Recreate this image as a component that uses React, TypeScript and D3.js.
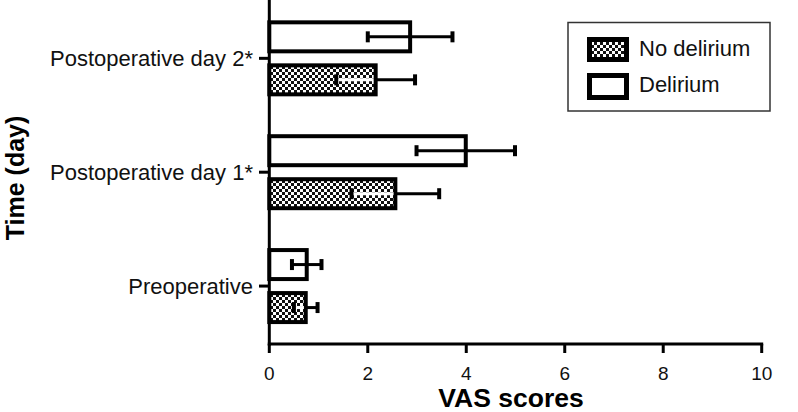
import React from "react";
import * as d3 from "d3";

const categories = ["Postoperative day 2*", "Postoperative day 1*", "Preoperative"];
const seriesNames = ["Delirium", "No delirium"];
const deliriumMean = [2.86, 3.99, 0.76];
const deliriumSD = [0.86, 1.0, 0.3];
const noDeliriumMean = [2.16, 2.56, 0.74];
const noDeliriumSD = [0.8, 0.89, 0.24];
const xTicks = [0, 2, 4, 6, 8, 10];

const W = 798;
const H = 412;
const FONT = "'Liberation Sans', Arial, sans-serif";

export default function App() {
  const x = d3.scaleLinear().domain([0, 10]).range([269.3, 761.7]);
  const y = d3.scaleBand<string>().domain(categories).range([1.4, 343]).padding(0);
  const sub = d3.scaleBand<string>().domain(seriesNames).range([-38, 38]).paddingInner(0.2326);
  const sw = 4;
  const axisY = 344;
  const axisX = x(0);

  const series = [
    { name: "Delirium", mean: deliriumMean, sd: deliriumSD, fill: "#fff" },
    { name: "No delirium", mean: noDeliriumMean, sd: noDeliriumSD, fill: "url(#checker)" },
  ];

  return (
    <svg width={W} height={H} style={{ position: "absolute", left: 0, top: 0, background: "#fff" }}>
      <defs>
        <pattern id="checker" patternUnits="userSpaceOnUse" width={6} height={6}>
          <rect width={6} height={6} fill="#fff" />
          <rect x={0} y={0} width={3} height={3} fill="#111" />
          <rect x={3} y={3} width={3} height={3} fill="#111" />
        </pattern>
      </defs>

      {categories.map((c, i) => {
        const cy = (y(c) as number) + y.bandwidth() / 2;
        return (
          <g key={c}>
            {series.map((s) => {
              const top = cy + (sub(s.name) as number);
              const bw = sub.bandwidth();
              const m = s.mean[i];
              const sd = s.sd[i];
              const ey = top + bw / 2;
              const isHatch = s.name === "No delirium";
              return (
                <g key={s.name}>
                  <rect
                    x={x(0)}
                    y={top + sw / 2}
                    width={x(m) - x(0)}
                    height={bw - sw}
                    fill={s.fill}
                    stroke="#000"
                    strokeWidth={sw}
                  />
                  {isHatch ? (
                    <line x1={x(m - sd)} x2={x(m) - sw / 2} y1={ey} y2={ey} stroke="#fff" strokeWidth={3} />
                  ) : (
                    <line x1={x(m - sd)} x2={x(m)} y1={ey} y2={ey} stroke="#000" strokeWidth={3} />
                  )}
                  <line x1={x(m)} x2={x(m + sd)} y1={ey} y2={ey} stroke="#000" strokeWidth={3} />
                  <line x1={x(m - sd)} x2={x(m - sd)} y1={ey - 5.5} y2={ey + 5.5} stroke="#000" strokeWidth={4} />
                  <line x1={x(m + sd)} x2={x(m + sd)} y1={ey - 5.5} y2={ey + 5.5} stroke="#000" strokeWidth={4} />
                </g>
              );
            })}
            <line x1={259} x2={axisX} y1={cy} y2={cy} stroke="#000" strokeWidth={3} />
            <text x={253} y={cy} dy="0.35em" textAnchor="end" fontFamily={FONT} fontSize={22} fill="#111">
              {c}
            </text>
          </g>
        );
      })}

      {/* axes */}
      <line x1={axisX} x2={axisX} y1={0} y2={axisY + 1.5} stroke="#000" strokeWidth={3} />
      <line x1={axisX - 1.5} x2={x(10) + 1.5} y1={axisY} y2={axisY} stroke="#000" strokeWidth={3} />
      {xTicks.map((t) => (
        <g key={t}>
          <line x1={x(t)} x2={x(t)} y1={axisY} y2={353} stroke="#000" strokeWidth={3} />
          <text x={x(t)} y={380} textAnchor="middle" fontFamily={FONT} fontSize={19} fill="#111">
            {t}
          </text>
        </g>
      ))}
      <text x={511} y={407} textAnchor="middle" fontFamily={FONT} fontSize={26.5} fontWeight="bold" fill="#000">
        VAS scores
      </text>
      <text
        transform="translate(24,178) rotate(-90)"
        textAnchor="middle"
        fontFamily={FONT}
        fontSize={25}
        fontWeight="bold"
        fill="#000"
      >
        Time (day)
      </text>

      {/* legend */}
      <rect x={568} y={22.5} width={202} height={88.5} fill="#fff" stroke="#333" strokeWidth={1.5} />
      <rect x={589.5} y={39.5} width={37} height={20} fill="url(#checker)" stroke="#000" strokeWidth={5} />
      <rect x={589.5} y={75.5} width={37} height={22} fill="#fff" stroke="#000" strokeWidth={5} />
      <text x={639} y={56} fontFamily={FONT} fontSize={22} fill="#111">
        No delirium
      </text>
      <text x={639} y={92} fontFamily={FONT} fontSize={22} fill="#111">
        Delirium
      </text>
    </svg>
  );
}
